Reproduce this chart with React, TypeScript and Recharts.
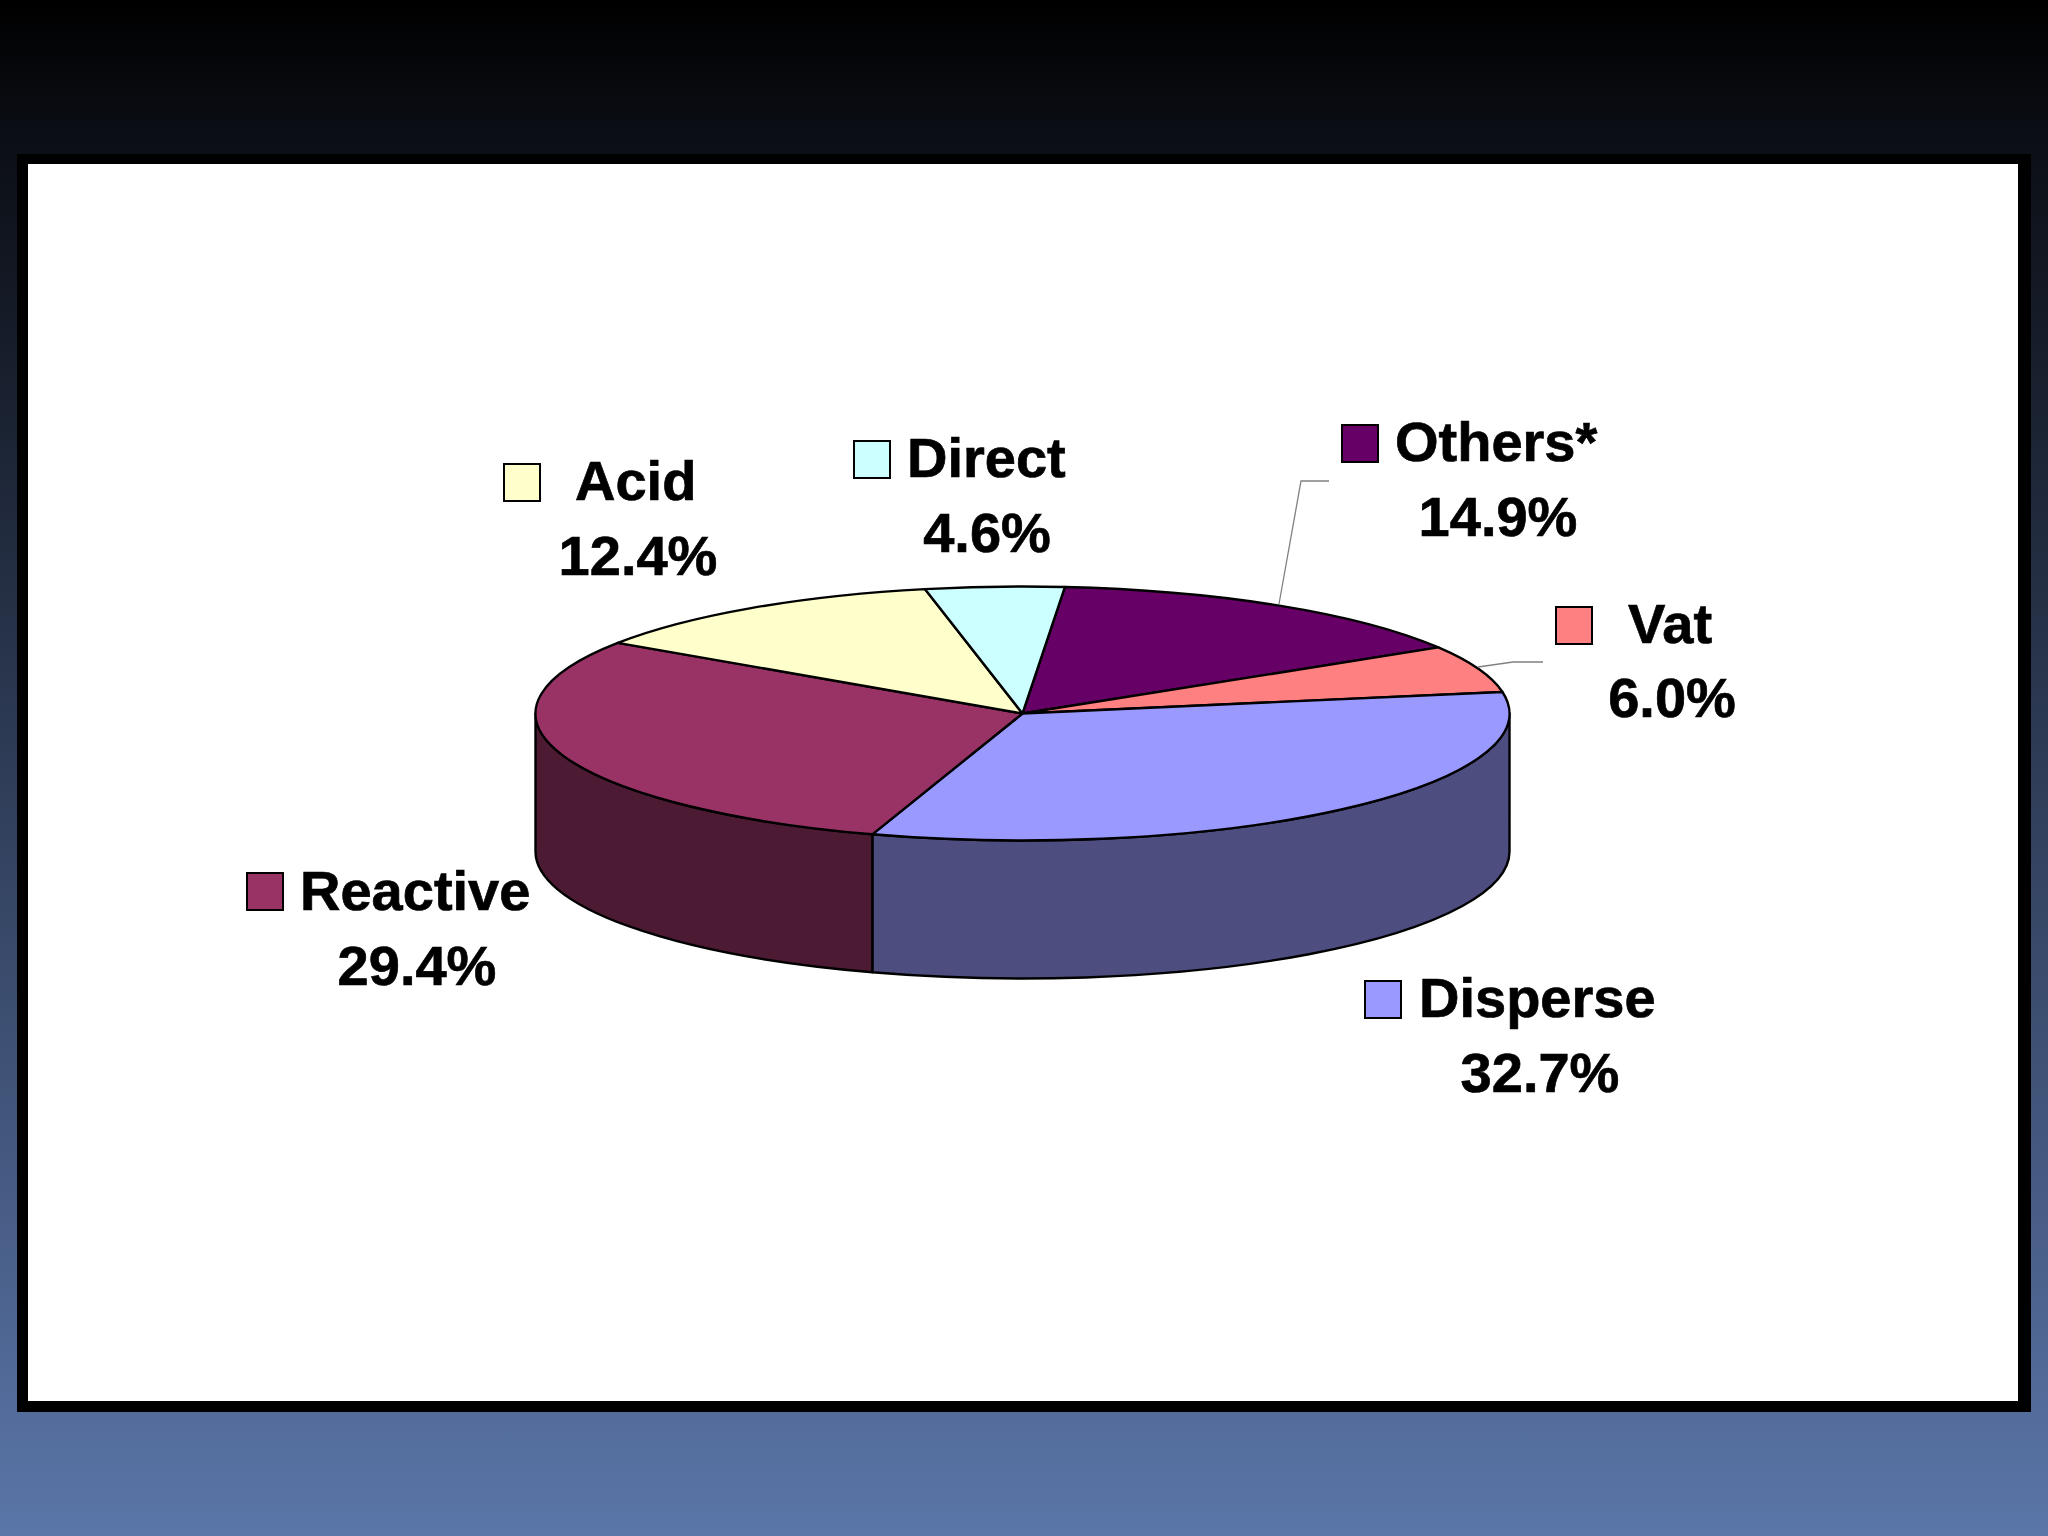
import { PieChart, Pie } from "recharts";

const dyes = ["Others*", "Vat", "Disperse", "Reactive", "Acid", "Direct"];
const shares = [14.9, 6.0, 32.7, 29.4, 12.4, 4.6];
const topColors = ["#660066", "#FF8080", "#9999FF", "#993366", "#FFFFCC", "#CCFFFF"];
const wallColors = ["#330033", "#804040", "#4D4D80", "#4D1A33", "#808066", "#668080"];

const rows = dyes.map((name, i) => ({ name, value: shares[i], fill: topColors[i], wall: wallColors[i] }));

const W = 2048;
const H = 1536;
const CX = 1022.5;
const CY = 713.5;
const RX = 487;
const SQUASH = 127 / 487;
const DEPTH = 138;

// swatch left/top, name x + baseline, percent centre + baseline, leader line
const labelLayout = [
  { sx: 1342, sy: 425, nx: 1395, ny: 461, px: 1498, py: 536, leader: "1279,604 1301,481 1329,481" },
  { sx: 1556, sy: 607, nx: 1628, ny: 643, px: 1672, py: 717, leader: "1478,667 1513,662 1543,662" },
  { sx: 1365, sy: 981, nx: 1419, ny: 1017, px: 1540, py: 1092 },
  { sx: 247, sy: 873, nx: 300, ny: 910, px: 417, py: 985 },
  { sx: 504, sy: 464, nx: 575, ny: 500, px: 638, py: 575 },
  { sx: 854, sy: 441, nx: 907, ny: 477, px: 987, py: 552 },
];

const pt = (deg: number, dy = 0) => {
  const a = (deg * Math.PI) / 180;
  return `${CX + RX * Math.cos(a)} ${CY - RX * SQUASH * Math.sin(a) + dy}`;
};

function TopSlice(props: any) {
  const { startAngle, endAngle, fill } = props;
  const large = Math.abs(startAngle - endAngle) > 180 ? 1 : 0;
  const d = `M ${CX} ${CY} L ${pt(startAngle)} A ${RX} ${RX * SQUASH} 0 ${large} 1 ${pt(endAngle)} Z`;
  return <path d={d} fill={fill} stroke="#000" strokeWidth={2.4} strokeLinejoin="round" />;
}

function WallSlice(props: any) {
  const { startAngle, endAngle, payload } = props;
  // only the front half of the rim is visible
  const a = Math.min(startAngle, 0);
  const b = Math.max(endAngle, -180);
  if (a <= b) return <g />;
  const ry = RX * SQUASH;
  const d = `M ${pt(a)} A ${RX} ${ry} 0 0 1 ${pt(b)} L ${pt(b, DEPTH)} A ${RX} ${ry} 0 0 0 ${pt(a, DEPTH)} Z`;
  return <path d={d} fill={payload?.wall ?? props.wall} stroke="#000" strokeWidth={2.4} strokeLinejoin="round" />;
}

function DyeLabel(props: any) {
  const i = props.index;
  const l = labelLayout[i];
  const font = {
    fontFamily: "'Liberation Sans', Arial, sans-serif",
    fontWeight: 700,
    fontSize: 56,
    fill: "#000",
    stroke: "#000",
    strokeWidth: 0.7,
  };
  return (
    <g>
      {l.leader && <polyline points={l.leader} fill="none" stroke="#808080" strokeWidth={1.3} />}
      <rect x={l.sx} y={l.sy} width={36} height={37} fill={topColors[i]} stroke="#000" strokeWidth={2} />
      <text x={l.nx} y={l.ny} {...font}>
        {dyes[i]}
      </text>
      <text x={l.px} y={l.py} textAnchor="middle" {...font}>
        {shares[i].toFixed(1)}%
      </text>
    </g>
  );
}

export default function App() {
  return (
    <div
      style={{
        position: "absolute",
        left: 0,
        top: 0,
        width: W,
        height: H,
        overflow: "hidden",
        background: "linear-gradient(180deg, #000000 0%, #0a0d13 8%, #5a75a8 100%)",
      }}
    >
      <div
        style={{
          position: "absolute",
          left: 17,
          top: 154,
          width: 1990,
          height: 1237,
          background: "#fff",
          borderStyle: "solid",
          borderColor: "#000",
          borderWidth: "10px 13px 11px 11px",
        }}
      />
      <div style={{ position: "absolute", left: 0, top: 0 }}>
        <PieChart width={W} height={H} margin={{ top: 0, right: 0, bottom: 0, left: 0 }}>
          <Pie
            data={rows}
            dataKey="value"
            nameKey="name"
            cx={CX}
            cy={CY}
            outerRadius={RX}
            startAngle={85}
            endAngle={-275}
            paddingAngle={0}
            shape={WallSlice}
            isAnimationActive={false}
            label={false}
          />
          <Pie
            data={rows}
            dataKey="value"
            nameKey="name"
            cx={CX}
            cy={CY}
            outerRadius={RX}
            startAngle={85}
            endAngle={-275}
            paddingAngle={0}
            shape={TopSlice}
            isAnimationActive={false}
            label={DyeLabel}
            labelLine={false}
          />
        </PieChart>
      </div>
    </div>
  );
}
